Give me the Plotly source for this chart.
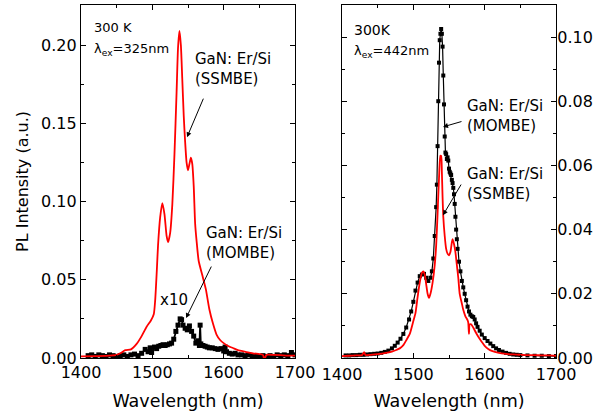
import plotly.graph_objects as go

# ---- Left panel: excitation 325 nm ----
left_ssmbe_wl = [1400, 1420, 1440, 1450, 1455, 1462, 1470, 1478, 1485, 1492, 1498, 1502, 1504, 1506.5,
                 1508, 1511, 1514, 1517, 1520, 1522, 1525, 1528, 1531, 1534, 1536, 1538, 1540, 1542,
                 1544, 1546, 1548, 1550, 1552, 1554, 1556, 1558, 1560, 1562, 1565, 1570, 1575, 1580,
                 1585, 1590, 1595, 1600, 1607, 1613, 1620, 1630, 1641, 1650, 1655, 1657, 1660, 1670,
                 1680, 1690, 1700]
left_ssmbe_int = [0.001, 0.0012, 0.0015, 0.002, 0.003, 0.005, 0.0055, 0.009, 0.014, 0.020, 0.024, 0.028, 0.037, 0.058,
                  0.072, 0.090, 0.099, 0.092, 0.078, 0.074, 0.080, 0.098, 0.130, 0.170, 0.198, 0.209, 0.200, 0.178,
                  0.155, 0.138, 0.125, 0.120, 0.124, 0.128, 0.124, 0.110, 0.086, 0.075, 0.062, 0.053, 0.044, 0.031,
                  0.022, 0.015, 0.0115, 0.0095, 0.0075, 0.0064, 0.005, 0.004, 0.003, 0.0025, 0.002, -0.001, 0.002, 0.002,
                  0.0018, 0.0015, 0.0015]

left_mombe_wl = [1410, 1415, 1420, 1425, 1430, 1435, 1440, 1445, 1450, 1455, 1460, 1465, 1470, 1475, 1480,
                 1485, 1490, 1494, 1497, 1499, 1503, 1506, 1509, 1512, 1515, 1518, 1521, 1524, 1527, 1530,
                 1533, 1536, 1539, 1541, 1543, 1546, 1549, 1552, 1555, 1558, 1561, 1564, 1566, 1567, 1568,
                 1571, 1574, 1577, 1580, 1584, 1588, 1592, 1596, 1600, 1602, 1604, 1608, 1612, 1616, 1620,
                 1625, 1630, 1635, 1640, 1645, 1650, 1655, 1660, 1665, 1670, 1675, 1680, 1685, 1690, 1695, 1700]
left_mombe_int = [0.0015, 0.002, 0.001, 0.002, 0.0015, 0.001, 0.002, 0.0015, 0.001, 0.0015, 0.002, 0.001, 0.002, 0.0025, 0.0015,
                  0.003, 0.0055, 0.004, 0.0065, 0.0035, 0.007, 0.006, 0.0075, 0.008, 0.0085, 0.008, 0.0085, 0.009, 0.0095, 0.012,
                  0.017, 0.021, 0.025, 0.0245, 0.021, 0.019, 0.018, 0.0205, 0.017, 0.014, 0.0095, 0.011, 0.008, 0.021, 0.009,
                  0.008, 0.0075, 0.007, 0.0065, 0.0065, 0.006, 0.0055, 0.006, 0.0045, 0.007, 0.004, 0.003, 0.0025, 0.003, 0.002,
                  0.002, 0.0015, 0.002, 0.001, 0.0015, 0.001, 0.0015, 0.001, 0.0015, 0.001, 0.002, 0.0015, 0.002, 0.0015, 0.0035, 0.002]

# ---- Right panel: excitation 442 nm ----
right_mombe_wl = [1405, 1410, 1415, 1420, 1425, 1430, 1435, 1440, 1445, 1450, 1455, 1460, 1465, 1470, 1474,
                  1478, 1482, 1486, 1490, 1494, 1497, 1500, 1503, 1506, 1509, 1512, 1515, 1518, 1521, 1524,
                  1526, 1528, 1530, 1532, 1533, 1534, 1535, 1536, 1537, 1538, 1539, 1540, 1541, 1542, 1543,
                  1544, 1545, 1546, 1547, 1548, 1549, 1550, 1551, 1552, 1553, 1554, 1555, 1556, 1557, 1558,
                  1559, 1560, 1561, 1562, 1564, 1566, 1568, 1570, 1572, 1574, 1576, 1578, 1580, 1582, 1584,
                  1586, 1588, 1590, 1593, 1596, 1600, 1604, 1608, 1612, 1616, 1620, 1625, 1630, 1635, 1640,
                  1645, 1650, 1660, 1670, 1680, 1690, 1700]
right_mombe_int = [0.0008, 0.0008, 0.0009, 0.0009, 0.001, 0.001, 0.0011, 0.0012, 0.0013, 0.0014, 0.0016, 0.0019, 0.0023, 0.003, 0.0038,
                   0.0048, 0.006, 0.0075, 0.0095, 0.012, 0.0145, 0.0175, 0.021, 0.0235, 0.0255, 0.026, 0.0262, 0.025, 0.024, 0.025,
                   0.027, 0.031, 0.038, 0.047, 0.054, 0.066, 0.080, 0.092, 0.099, 0.101, 0.1025, 0.101, 0.097, 0.088, 0.079,
                   0.069, 0.064, 0.0635, 0.062, 0.0625, 0.0615, 0.059, 0.058, 0.0575, 0.057, 0.0555, 0.0545, 0.053, 0.051, 0.048,
                   0.044, 0.040, 0.037, 0.034, 0.030, 0.027, 0.024, 0.022, 0.020, 0.018, 0.016, 0.0145, 0.0135, 0.013, 0.0128,
                   0.012, 0.0108, 0.0097, 0.0085, 0.0073, 0.0062, 0.0053, 0.0045, 0.0037, 0.003, 0.0025, 0.002, 0.0016, 0.0013, 0.0011,
                   0.001, 0.0009, 0.0008, 0.0007, 0.0007, 0.0006, 0.0006]

right_ssmbe_wl = [1400, 1410, 1420, 1428, 1431, 1433, 1440, 1450, 1460, 1470, 1476, 1481, 1486, 1490, 1495,
                  1500, 1503, 1506, 1509, 1512, 1514, 1516, 1518, 1520, 1522, 1524, 1527, 1530, 1532, 1534,
                  1536, 1538, 1539, 1540, 1541, 1542, 1544, 1546, 1548, 1550, 1552, 1554, 1555, 1557, 1559,
                  1561, 1563, 1565, 1568, 1570, 1573, 1576, 1577, 1578, 1579, 1581, 1584, 1588, 1592, 1596,
                  1600, 1605, 1610, 1620, 1630, 1640, 1650, 1660, 1670, 1680, 1690, 1700]
right_ssmbe_int = [0.0006, 0.0007, 0.0008, 0.0009, 0.0018, 0.0009, 0.001, 0.0012, 0.0015, 0.002, 0.0025, 0.003, 0.004, 0.0055, 0.0075,
                   0.0115, 0.014, 0.019, 0.0235, 0.0265, 0.027, 0.026, 0.023, 0.020, 0.0187, 0.020, 0.0235, 0.029, 0.035, 0.045,
                   0.056, 0.063, 0.063, 0.058, 0.050, 0.044, 0.038, 0.034, 0.0325, 0.032, 0.033, 0.036, 0.037, 0.0355, 0.033,
                   0.029, 0.025, 0.020, 0.017, 0.015, 0.013, 0.0118, 0.011, 0.0075, 0.0105, 0.0105, 0.0095, 0.0078, 0.0063, 0.005,
                   0.0038, 0.0028, 0.0022, 0.0016, 0.0013, 0.0011, 0.001, 0.0009, 0.0009, 0.0008, 0.0008, 0.0007]

x_tick_vals = [1400, 1500, 1600, 1700]
left_y_ticks = [0.00, 0.05, 0.10, 0.15, 0.20]
right_y_ticks = [0.00, 0.02, 0.04, 0.06, 0.08, 0.10]

RED = "#ff0000"
FONT = "DejaVu Sans"
W, H = 598, 413

fig = go.Figure()
fig.add_trace(go.Scatter(x=left_mombe_wl, y=left_mombe_int, mode="lines+markers",
                         line=dict(color="black", width=1.8),
                         marker=dict(symbol="square", size=5, color="black"),
                         xaxis="x", yaxis="y", showlegend=False))
fig.add_trace(go.Scatter(x=left_ssmbe_wl, y=left_ssmbe_int, mode="lines",
                         line=dict(color=RED, width=1.8, shape="spline", smoothing=0.6),
                         xaxis="x", yaxis="y", showlegend=False))
fig.add_trace(go.Scatter(x=right_mombe_wl, y=right_mombe_int, mode="lines+markers",
                         line=dict(color="black", width=1.2),
                         marker=dict(symbol="square", size=4, color="black"),
                         xaxis="x2", yaxis="y2", showlegend=False))
fig.add_trace(go.Scatter(x=right_ssmbe_wl, y=right_ssmbe_int, mode="lines",
                         line=dict(color=RED, width=1.8, shape="spline", smoothing=0.6),
                         xaxis="x2", yaxis="y2", showlegend=False))

def xax(domain, anchor, standoff):
    return dict(domain=domain, anchor=anchor, range=[1400, 1700], tickvals=x_tick_vals,
                ticks="inside", ticklen=5, tickwidth=1, tickcolor="black",
                minor=dict(dtick=50, ticks="inside", ticklen=3, tickwidth=1, tickcolor="black"),
                showline=True, linecolor="black", linewidth=1.3, mirror="allticks",
                showgrid=False, zeroline=False, ticklabelstandoff=standoff,
                tickfont=dict(family=FONT, size=16, color="black"),
                title=dict(text="Wavelength (nm)", font=dict(family=FONT, size=17.5, color="black"),
                           standoff=13 - standoff),
                automargin=False)

y_dom = [1 - 358 / H, 1 - 5 / H]
fig.update_layout(
    width=W, height=H, margin=dict(l=0, r=0, t=0, b=0),
    paper_bgcolor="white", plot_bgcolor="white",
    xaxis=xax([81 / W, 295 / W], "y", 0),
    xaxis2=xax([342 / W, 556 / W], "y2", 2),
    yaxis=dict(domain=y_dom, anchor="x", range=[0, 0.2256], tickvals=left_y_ticks, tickformat=".2f",
               ticks="inside", ticklen=5, tickwidth=1, tickcolor="black",
               minor=dict(dtick=0.025, ticks="inside", ticklen=3, tickwidth=1, tickcolor="black"),
               showline=True, linecolor="black", linewidth=1.3, mirror="allticks",
               showgrid=False, zeroline=False, ticklabelstandoff=0,
               tickfont=dict(family=FONT, size=16, color="black"),
               title=dict(text="PL Intensity (a.u.)", font=dict(family=FONT, size=16, color="black"), standoff=8),
               automargin=False),
    yaxis2=dict(domain=y_dom, anchor="x2", side="right", range=[0, 0.10997], tickvals=right_y_ticks,
                tickformat=".2f",
                ticks="inside", ticklen=5, tickwidth=1, tickcolor="black",
                minor=dict(dtick=0.01, ticks="inside", ticklen=3, tickwidth=1, tickcolor="black"),
                showline=True, linecolor="black", linewidth=1.3, mirror="allticks",
                showgrid=False, zeroline=False, ticklabelstandoff=-3,
                tickfont=dict(family=FONT, size=16, color="black"),
                automargin=False),
)

def txt(x, y, s, size, xr="x", yr="y"):
    fig.add_annotation(x=x, y=y, xref=xr, yref=yr, text=s, showarrow=False, xanchor="left",
                       yanchor="middle", align="left", font=dict(family=FONT, size=size, color="black"))

def arrow(x0, y0, x1, y1, xr="x", yr="y"):
    fig.add_annotation(x=x1, y=y1, ax=x0, ay=y0, xref=xr, yref=yr, axref=xr, ayref=yr, text="",
                       showarrow=True, arrowhead=2, arrowsize=1, arrowwidth=1, arrowcolor="black")

# left panel labels
txt(1415.4, 0.2114, "300 K", 13)
txt(1415.4, 0.1973, "λ<sub>ex</sub>=325nm", 13)
txt(1557.0, 0.1846, "GaN: Er/Si<br>(SSMBE)", 15)
txt(1572.4, 0.0738, "GaN: Er/Si<br>(MOMBE)", 15)
txt(1508.0, 0.0370, "x10", 15)
arrow(1572.4, 0.1667, 1548.6, 0.1411)
arrow(1583.7, 0.0594, 1547.2, 0.0255)

# right panel labels
txt(1414.0, 0.1022, "300K", 14, "x2", "y2")
txt(1414.0, 0.0956, "λ<sub>ex</sub>=442nm", 13, "x2", "y2")
txt(1572.4, 0.0754, "GaN: Er/Si<br>(MOMBE)", 15, "x2", "y2")
txt(1572.4, 0.0542, "GaN: Er/Si<br>(SSMBE)", 15, "x2", "y2")
arrow(1569.6, 0.0738, 1541.6, 0.0720, "x2", "y2")
arrow(1568.2, 0.0545, 1541.6, 0.0445, "x2", "y2")

fig.write_html("out.html", config={"displayModeBar": False},
               post_script="document.body.style.margin='0';document.body.style.padding='0';")
